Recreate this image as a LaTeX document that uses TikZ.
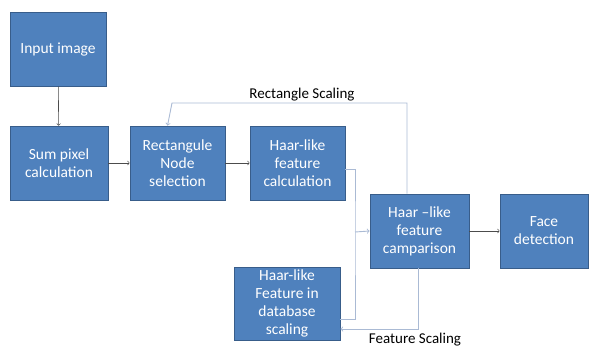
\documentclass[tikz,border=0pt]{standalone}
\usepackage{fontspec}
\setmainfont{Carlito}
\usepackage{tikz}

\tikzset{
	stage/.style={draw={rgb,255:red,56;green,93;blue,138}, line width=0.8pt, fill={rgb,255:red,79;green,129;blue,189}, text=white, align=center, font=\fontsize{15.5}{18}\selectfont, inner sep=0pt},
	flow/.style={->, draw=black!70, line width=0.6pt},
	loop/.style={draw={rgb,255:red,170;green,186;blue,212}, line width=0.9pt},
}

\begin{document}
\begin{tikzpicture}[x=1pt, y=-1pt]
	\useasboundingbox (0, 0) rectangle (590, 349);

	\node[stage, minimum width=96pt, minimum height=74pt] (input) at (58, 49) {Input image};
	\node[stage, minimum width=98pt, minimum height=74pt] (sum) at (59, 163) {Sum pixel\\calculation};
	\node[stage, minimum width=95pt, minimum height=74pt] (rectnode) at (177.5, 163) {Rectangule\\Node\\selection};
	\node[stage, minimum width=95pt, minimum height=74pt] (haarcalc) at (297.5, 163) {Haar-like\\feature\\calculation};
	\node[stage, minimum width=99pt, minimum height=74pt] (compare) at (419.5, 231) {Haar --like\\feature\\camparison};
	\node[stage, minimum width=88pt, minimum height=74pt] (face) at (544, 231) {Face\\detection};
	\node[stage, minimum width=106pt, minimum height=73pt] (database) at (287, 303.5) {Haar-like\\Feature in\\database\\scaling};

	\draw [flow] (input) edge (sum);
	\draw [flow] (sum) edge (rectnode);
	\draw [flow] (rectnode) edge (haarcalc);
	\draw [flow] (compare) edge (face);

	% feedback loops
	\coordinate (bus) at (355, 232);
	\coordinate (rsbend) at (172, 103);
	\coordinate (fsbend) at (418, 329);
	\draw [loop] ([yshift=-6pt]haarcalc.east) -| (bus) -- (355, 319) -- (database.east |- 0, 319);
	\draw [loop, ->] (bus) -- (compare.west);
	\draw [loop, ->] ([xshift=-12.5pt]compare.north) |- (rsbend) -- ([xshift=-10pt]rectnode.north);
	\draw [loop, ->] ([xshift=-1.5pt]compare.south) -- (fsbend) -- (database.east |- fsbend);

	\node[font=\fontsize{15}{17}\selectfont] (rslabel) at (302, 95) {Rectangle Scaling};
	\node[font=\fontsize{15}{17}\selectfont, inner sep=1pt] (fslabel) at (415, 340) {Feature Scaling};
\end{tikzpicture}
\end{document}
